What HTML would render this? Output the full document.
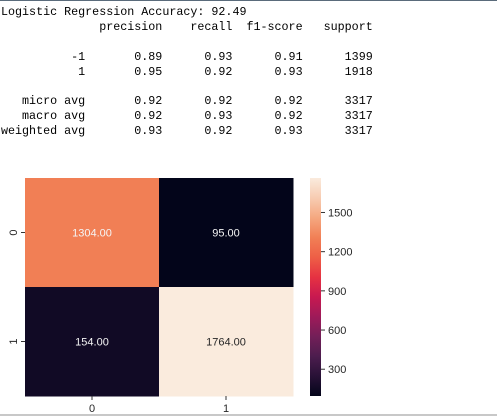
<!DOCTYPE html>
<html><head><meta charset="utf-8"><style>
body{margin:0;width:497px;height:416px;background:#fff;overflow:hidden;position:relative}
#topline{position:absolute;left:0;top:0;width:497px;height:1px;background:#5a6b7b}
#report{position:absolute;left:1px;top:5px;margin:0;font-family:"Liberation Mono",monospace;font-size:11.7px;line-height:14.9px;color:#000;white-space:pre}
#botline{position:absolute;left:0;top:414px;width:497px;height:2px;background:#c8c8c8}
svg{position:absolute;left:0;top:0}
</style></head><body>
<div id="topline"></div>
<pre id="report">Logistic Regression Accuracy: 92.49
              precision    recall  f1-score   support

          -1       0.89      0.93      0.91      1399
           1       0.95      0.92      0.93      1918

   micro avg       0.92      0.92      0.92      3317
   macro avg       0.92      0.93      0.92      3317
weighted avg       0.93      0.92      0.93      3317</pre>
<svg id="chart" width="497" height="416"></svg>
<div id="botline"></div>
<script>
const rowLabels=["0","1"];
const colLabels=["0","1"];
const cellValues=[[1304,95],[154,1764]];
const cbarTicks=[300,600,900,1200,1500];
const vmin=95, vmax=1764;
const rocket=[[3,5,26],[40,17,54],[76,29,78],[115,31,88],[158,26,89],[200,25,80],[230,50,66],[238,95,70],[241,128,86],[245,168,128],[247,204,178],[250,235,221]];
function cmap(v){let t=(v-vmin)/(vmax-vmin);t=Math.max(0,Math.min(1,t));const p=t*(rocket.length-1),i=Math.min(Math.floor(p),rocket.length-2),f=p-i;const c=rocket[i].map((a,k)=>Math.round(a+(rocket[i+1][k]-a)*f));return `rgb(${c})`;}
const svg=document.getElementById('chart'),NS='http://www.w3.org/2000/svg';
function mk(tag,attrs,name){const e=document.createElementNS(NS,tag);for(const k in attrs)e.setAttribute(k,attrs[k]);svg.appendChild(e);return e;}
const L=25,T=178,W=268,H=218;
const cw=W/colLabels.length, ch=H/rowLabels.length;
const xc=j=>L+cw*(j+0.5), yc=i=>T+ch*(i+0.5);
const CB={x:310,w:11,top:T,bot:T+H};
const yCb=v=>CB.bot-(v-vmin)/(vmax-vmin)*(CB.bot-CB.top);
rowLabels.forEach((r,i)=>colLabels.forEach((c,j)=>{
  const v=cellValues[i][j];
  mk('rect',{x:L+cw*j,y:T+ch*i,width:cw+0.5,height:ch+0.5,fill:cmap(v)},'cell-'+r+'-'+c);
  const t=(v-vmin)/(vmax-vmin);
  const tx=mk('text',{x:xc(j),y:yc(i)+4,'text-anchor':'middle','font-family':'Liberation Sans, sans-serif','font-size':'11',fill:t>0.85?'#262626':'#f5f5f5'},'cell-label-'+r+'-'+c);
  tx.textContent=v.toFixed(2);
}));
rowLabels.forEach((r,i)=>{
  mk('line',{x1:L-4,x2:L,y1:yc(i),y2:yc(i),stroke:'#333'},'y-tick-'+r);
  const t=mk('text',{x:0,y:0,transform:`translate(${L-8},${yc(i)}) rotate(-90)`,'text-anchor':'middle','font-family':'Liberation Sans, sans-serif','font-size':'11',fill:'#262626'},'y-tick-label-'+r);t.textContent=r;
});
colLabels.forEach((c,j)=>{
  mk('line',{x1:xc(j),x2:xc(j),y1:T+H,y2:T+H+4,stroke:'#333'},'x-tick-'+c);
  const t=mk('text',{x:xc(j),y:T+H+16,'text-anchor':'middle','font-family':'Liberation Sans, sans-serif','font-size':'11',fill:'#262626'},'x-tick-label-'+c);t.textContent=c;
});
const defs=document.createElementNS(NS,'defs');svg.appendChild(defs);
const g=document.createElementNS(NS,'linearGradient');g.setAttribute('id','cb');g.setAttribute('x1','0');g.setAttribute('y1','1');g.setAttribute('x2','0');g.setAttribute('y2','0');defs.appendChild(g);
rocket.forEach((c,i)=>{const s=document.createElementNS(NS,'stop');s.setAttribute('offset',i/(rocket.length-1));s.setAttribute('stop-color',`rgb(${c})`);g.appendChild(s);});
mk('rect',{x:CB.x,y:CB.top,width:CB.w,height:CB.bot-CB.top,fill:'url(#cb)'},'colorbar');
cbarTicks.forEach(v=>{
  mk('line',{x1:CB.x+CB.w,x2:CB.x+CB.w+4,y1:yCb(v),y2:yCb(v),stroke:'#333'},'colorbar-tick-'+v);
  const t=mk('text',{x:CB.x+CB.w+7,y:yCb(v)+4,'font-family':'Liberation Sans, sans-serif','font-size':'11',fill:'#262626'},'colorbar-tick-label-'+v);t.textContent=v;
});
</script>
</body></html>
